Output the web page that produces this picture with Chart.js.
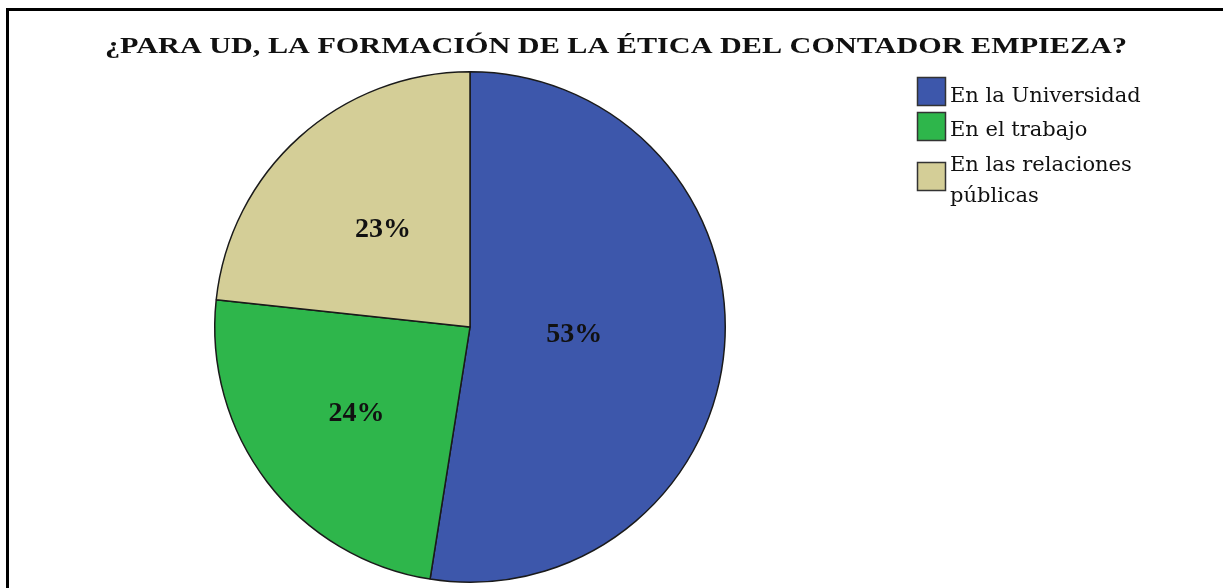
<!DOCTYPE html>
<html>
<head>
<meta charset="utf-8">
<script src="https://cdn.jsdelivr.net/npm/chart.js@4/dist/chart.umd.min.js"></script>
<style>
html,body{margin:0;padding:0;background:#fff;}
#wrap{position:relative;width:1223px;height:588px;}
</style>
</head>
<body>
<div id="wrap"><canvas id="c" width="1223" height="588"></canvas></div>
<script>
const title = '¿PARA UD, LA FORMACIÓN DE LA ÉTICA DEL CONTADOR EMPIEZA?';
const categories = ['En la Universidad', 'En el trabajo', 'En las relaciones públicas'];
const legendLines = [['En la Universidad'], ['En el trabajo'], ['En las relaciones', 'públicas']];
const values = [52.5, 24.2, 23.3];
const colors = ['#3D57AB', '#2EB64B', '#D4CE97'];

const labelRadius = [0.41, 0.56, 0.51];

const serif = '"Liberation Serif", "DejaVu Serif", serif';
const wideSerif = '"DejaVu Serif", "Liberation Serif", serif';

const decor = {
  id: 'decor',
  afterDatasetsDraw(chart) {
    const ctx = chart.ctx;
    const meta = chart.getDatasetMeta(0);
    ctx.save();
    ctx.fillStyle = '#111';
    ctx.font = 'bold 28px ' + serif;
    ctx.textAlign = 'center';
    ctx.textBaseline = 'middle';
    const total = values.reduce((a, b) => a + b, 0);
    meta.data.forEach((arc, i) => {
      const p = arc.getProps(['x', 'y', 'startAngle', 'endAngle', 'outerRadius'], true);
      const mid = (p.startAngle + p.endAngle) / 2;
      const r = p.outerRadius * labelRadius[i];
      ctx.fillText(Math.round(values[i] / total * 100) + '%', p.x + Math.cos(mid) * r, p.y + Math.sin(mid) * r);
    });
    ctx.restore();
  },
  afterDraw(chart) {
    const ctx = chart.ctx;
    ctx.save();
    ctx.strokeStyle = '#000';
    ctx.lineWidth = 3;
    ctx.beginPath();
    ctx.moveTo(7.5, 588);
    ctx.lineTo(7.5, 9.5);
    ctx.lineTo(1223, 9.5);
    ctx.stroke();
    // title
    ctx.fillStyle = '#111';
    ctx.font = 'bold 24px ' + serif;
    ctx.textAlign = 'left';
    ctx.textBaseline = 'alphabetic';
    const w = ctx.measureText(title).width;
    const target = 1022;
    ctx.save();
    ctx.translate(105, 53);
    ctx.scale(target / w, 1);
    ctx.fillText(title, 0, 0);
    ctx.restore();
    // legend
    ctx.font = '21px ' + wideSerif;
    ctx.textBaseline = 'alphabetic';
    const boxTops = [77, 112, 162];
    const textBase = [[102], [136], [171, 202]];
    legendLines.forEach((lines, i) => {
      ctx.fillStyle = colors[i];
      ctx.fillRect(917, boxTops[i], 29, 29);
      ctx.strokeStyle = '#333';
      ctx.lineWidth = 1.5;
      ctx.strokeRect(917.5, boxTops[i] + 0.5, 28, 28);
      ctx.fillStyle = '#111';
      lines.forEach((t, j) => ctx.fillText(t, 950, textBase[i][j]));
    });
    ctx.restore();
  }
};

new Chart(document.getElementById('c'), {
  type: 'pie',
  data: {
    labels: categories,
    datasets: [{
      data: values,
      backgroundColor: colors,
      borderColor: '#1a1a1a',
      borderWidth: 1.5
    }]
  },
  options: {
    responsive: false,
    animation: false,
    layout: { padding: { left: 214, right: 497, top: 71, bottom: 5 } },
    plugins: {
      legend: { display: false },
      title: { display: false },
      tooltip: { enabled: false }
    }
  },
  plugins: [decor]
});
</script>
</body>
</html>
